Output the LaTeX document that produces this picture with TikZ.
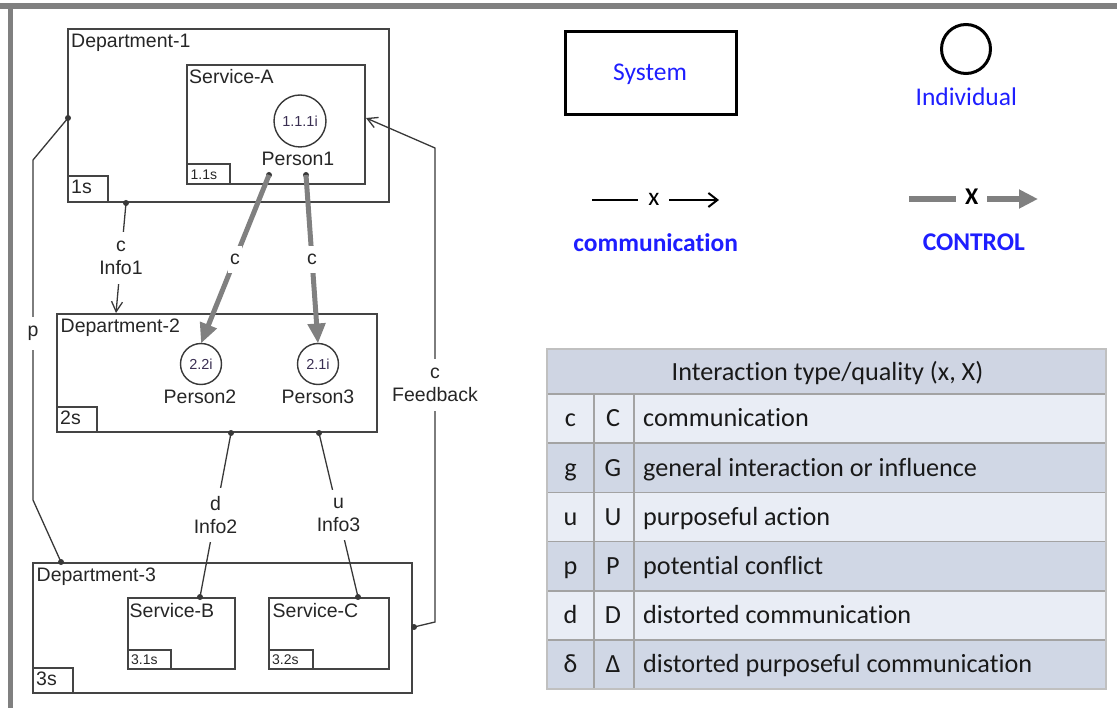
\documentclass[tikz,border=0pt]{standalone}
\usepackage{fontspec}
\setmainfont{Liberation Sans}
\newfontfamily\calfont[Ligatures={NoCommon,NoContextual,NoRequired},Contextuals=NoAlternate]{Carlito}
\usetikzlibrary{arrows.meta}
\definecolor{txt}{HTML}{262626}
\definecolor{ln}{HTML}{383838}
\definecolor{bx}{HTML}{444444}
\definecolor{ctl}{HTML}{808080}
\definecolor{lgblue}{HTML}{1E1EFF}
\definecolor{hdr}{HTML}{CFD5E3}
\definecolor{rowA}{HTML}{E9EDF5}
\definecolor{rowB}{HTML}{D0D7E5}
\definecolor{gridc}{HTML}{A3A3A3}
\definecolor{outc}{HTML}{C0C0C0}
\definecolor{framec}{HTML}{808080}
\definecolor{idc}{HTML}{3A2F52}
\newcommand\nti{t\kern0pt i}
\begin{document}
\begin{tikzpicture}[x=1pt,y=-1pt,
  box/.style={draw=bx, line width=1.4pt, inner sep=0pt, outer sep=0pt, anchor=north west},
  person/.style={circle, draw=ln, line width=1.4pt, inner sep=0pt, outer sep=0pt, text=idc, font=\fontsize{14.5}{16}\selectfont},
  lbl/.style={font=\fontsize{19.5}{22.5}\selectfont, text=txt, inner sep=0pt},
  tiny/.style={font=\fontsize{14}{16}\selectfont, text=txt, inner sep=0pt},
  lab/.style={font=\fontsize{19.5}{22.5}\selectfont, text=txt, fill=white, align=center, inner xsep=2pt, inner ysep=9pt},
  dot/.style={circle, fill=ln, inner sep=0pt, minimum size=6pt},
  thin/.style={draw=ln, line width=1.3pt},
  thinarrow/.style={thin, -{Straight Barb[length=10pt,width=11pt]}},
  ctlarrow/.style={draw=ctl, line width=5pt, -{Triangle[length=20pt,width=17pt]}},
  lg/.style={font=\calfont\fontsize{25.5}{30}\selectfont, inner sep=0pt},
  tb/.style={font=\calfont\fontsize{26.2}{30}\selectfont, text={black!90}, inner sep=0pt}
]
\useasboundingbox (0,0) rectangle (1117,708);
% frame
\fill[framec] (0,3) rectangle (1117,9);
\fill[framec] (8,3) rectangle (13,708);

% ---------- boxes ----------
\node[box, minimum width=321pt, minimum height=173pt] (d1) at (68,29) {};
\node[box, minimum width=178pt, minimum height=119pt] (sa) at (187,65) {};
\node[box, minimum width=43pt, minimum height=20pt] (s11) at (187,164) {};
\node[box, minimum width=40pt, minimum height=26pt] (s1) at (68,176) {};
\node[box, minimum width=320pt, minimum height=118pt] (d2) at (57,314) {};
\node[box, minimum width=40pt, minimum height=25pt] (s2) at (57,407) {};
\node[box, minimum width=379pt, minimum height=130pt] (d3) at (33,563) {};
\node[box, minimum width=40pt, minimum height=25pt] (s3) at (33,668) {};
\node[box, minimum width=107pt, minimum height=71pt] (sb) at (128,598) {};
\node[box, minimum width=43pt, minimum height=19pt] (s31) at (128,650) {};
\node[box, minimum width=120pt, minimum height=71pt] (sc) at (269,598) {};
\node[box, minimum width=44pt, minimum height=19pt] (s32) at (269,650) {};

% ---------- box labels ----------
\node[lbl, anchor=base west] (d1l) at (71,48) {Department-1};
\node[lbl, anchor=base west] (sal) at (189,83.5) {Service-A};
\node[tiny, anchor=base west] (s11l) at (190.5,179.5) {1.1s};
\node[lbl, anchor=base west] (s1l) at (71,194) {1s};
\node[lbl, anchor=base west] (d2l) at (60.5,332.5) {Department-2};
\node[lbl, anchor=base west] (s2l) at (60,425) {2s};
\node[lbl, anchor=base west] (d3l) at (36.5,581.5) {Department-3};
\node[lbl, anchor=base west] (sbl) at (129.5,617.5) {Service-B};
\node[lbl, anchor=base west] (scl) at (272.5,617.5) {Service-C};
\node[tiny, anchor=base west] (s31l) at (131,664) {3.1s};
\node[tiny, anchor=base west] (s32l) at (272,664) {3.2s};
\node[lbl, anchor=base west] (s3l) at (36,685) {3s};

% ---------- persons ----------
\node[person, minimum size=52pt] (p1) at (300,121) {1.1.1i};
\node[lbl, anchor=base] (p1l) at (298,165.5) {Person1};
\node[person, minimum size=41pt] (p2) at (201,364) {2.2i};
\node[lbl, anchor=base] (p2l) at (200,404) {Person2};
\node[person, minimum size=41pt] (p3) at (318,364) {2.1i};
\node[lbl, anchor=base] (p3l) at (318,404) {Person3};

% ---------- dots ----------
\node[dot] (dp1a) at (269,175) {};
\node[dot] (dp1b) at (306,175) {};
\node[dot] (dd1b) at (126,203) {};
\node[dot] (dd1l) at (68,118) {};
\node[dot] (dd3t) at (61,562) {};
\node[dot] (dd3r) at (414,627) {};
\node[dot] (dd2a) at (231,433) {};
\node[dot] (dd2b) at (319,433) {};
\node[dot] (dsb) at (200,597) {};
\node[dot] (dsc) at (358,597) {};
\coordinate (d2in) at (116,313);
\coordinate (sain) at (366,118);
\coordinate (fb1) at (435,622);
\coordinate (fb2) at (435,148);
\coordinate (pp1) at (33,160);
\coordinate (pp2) at (33,500);

% ---------- connectors ----------
\draw[ctlarrow] (dp1a.center) -- node[lab, inner ysep=8pt, fill=white]{c} (p2.north);
\draw[ctlarrow] (dp1b.center) -- node[lab, inner ysep=8pt, fill=white]{c} (p3.north);
\draw[thinarrow] (dd1b.center) -- node[lab]{c\\Info1} (d2in);
\draw[thinarrow] (dd3r.center) -- (fb1) -- node[lab]{c\\Feedback} (fb2) -- (sain);
\draw[thin] (dd1l.center) -- (pp1) -- node[lab, pos=0.51]{p} (pp2) -- (dd3t.center);
\draw[thin] (dd2a.center) -- node[lab]{d\\Info2} (dsb.center);
\draw[thin] (dd2b.center) -- node[lab]{u\\Info3} (dsc.center);

% ---------- legend ----------
\node[draw=black, line width=3pt, minimum width=171pt, minimum height=83pt, inner sep=0pt] (sys) at (651,73) {};
\node[lg, text=lgblue, anchor=base] (sysl) at (650,81) {System};
\node[circle, draw=black, line width=3pt, minimum size=49pt, inner sep=0pt] (ind) at (966,49) {};
\node[lg, text=lgblue, anchor=base] (indl) at (966.3,105.3) {Individual};

\coordinate (cm1) at (592,200);
\coordinate (cm2) at (638,200);
\coordinate (cm3) at (669,200);
\coordinate (cm4) at (719,200);
\node[lg, anchor=base] (cmx) at (654,205.7) {x};
\draw[black, line width=2pt] (cm1) -- (cm2);
\draw[black, line width=2pt, -{Straight Barb[length=9pt,width=14pt]}] (cm3) -- (cm4);
\node[lg, text=lgblue, font=\calfont\bfseries\fontsize{25.5}{30}\selectfont, anchor=base] (cml) at (655.7,251.7) {communica\nti on};

\coordinate (ct1) at (909,199);
\coordinate (ct2) at (956,199);
\coordinate (ct3) at (987,199);
\coordinate (ct4) at (1038,199);
\node[lg, font=\calfont\bfseries\fontsize{24}{30}\selectfont, anchor=base] (ctx) at (971.7,204.3) {X};
\draw[ctl, line width=6pt] (ct1) -- (ct2);
\draw[ctl, line width=6pt, -{Triangle[length=19pt,width=18pt]}] (ct3) -- (ct4);
\node[lg, text=lgblue, font=\calfont\bfseries\fontsize{25.5}{30}\selectfont, anchor=base] (ctl) at (973.8,250.7) {CONTROL};

% ---------- table ----------
\fill[hdr] (547,349) rectangle (1106,394);
\foreach \i/\c in {0/rowA,1/rowB,2/rowA,3/rowB,4/rowA,5/rowB}
  \fill[\c] (547,{394+49.2*\i}) rectangle (1106,{394+49.2*(\i+1)});
\foreach \i in {0,...,5}
  \draw[gridc, line width=1.6pt] (547,{394+49.2*\i}) -- (1106,{394+49.2*\i});
\draw[gridc, line width=1.6pt] (594,394) -- (594,689.2);
\draw[gridc, line width=1.6pt] (634,394) -- (634,689.2);
\draw[outc, line width=1.6pt] (547,349) rectangle (1106,689.2);
\node[tb, anchor=base] (th) at (827.5,380.7) {Interaction type/quality (x, X)};
\foreach \i/\a/\b/\t in {1/c/C/communica\nti on, 2/g/G/general interac\nti on or influence, 3/u/U/purposeful ac\nti on, 4/p/P/poten\nti al conflict, 5/d/D/distorted communica\nti on, 6/δ/Δ/distorted purposeful communica\nti on}{
  \node[tb, anchor=base] (ta\i) at (570.5,{394+49.2*(\i-1)+32.8}) {\a};
  \node[tb, anchor=base] (tb\i) at (613,{394+49.2*(\i-1)+32.8}) {\b};
  \node[tb, anchor=base west] (tc\i) at (643,{394+49.2*(\i-1)+32.8}) {\t};
}
\end{tikzpicture}
\end{document}
